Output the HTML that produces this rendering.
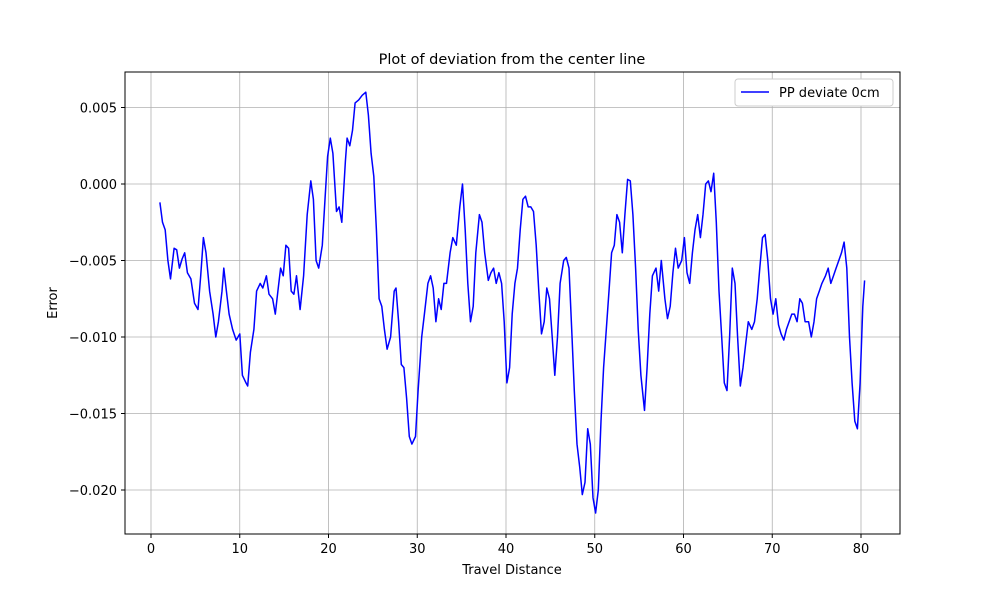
<!DOCTYPE html>
<html><head><meta charset="utf-8"><style>
html,body{margin:0;padding:0;background:#fff;}
svg{display:block;font-family:"DejaVu Sans","Liberation Sans",sans-serif;}
</style></head><body>
<svg id="chart" width="1000" height="600" viewBox="0 0 1000 600">
<rect width="1000" height="600" fill="#fff"/>
<text x="512" y="64" font-size="14.5" text-anchor="middle">Plot of deviation from the center line</text>
<g id="grid"></g>
<g id="ticks"></g>
<polyline id="line" fill="none" stroke="#0000ff" stroke-width="1.5" stroke-linejoin="round"/>
<rect x="125" y="72" width="775" height="462" fill="none" stroke="#000" stroke-width="1"/>
<text x="512" y="574" font-size="13" text-anchor="middle">Travel Distance</text>
<text transform="translate(57,303) rotate(-90)" font-size="13" text-anchor="middle">Error</text>
<g>
<rect x="735" y="79" width="158" height="27" rx="3" fill="#fff" stroke="#ccc"/>
<line x1="741" y1="92" x2="769" y2="92" stroke="#0000ff" stroke-width="1.5"/>
<text x="779" y="97" font-size="13">PP deviate 0cm</text>
</g>
</svg>
<script>
const xs=[1.0,1.3,1.6,1.9,2.2,2.6,2.9,3.2,3.5,3.8,4.1,4.5,4.9,5.3,5.6,5.9,6.2,6.6,7.0,7.3,7.6,8.0,8.2,8.5,8.8,9.2,9.6,10.0,10.3,10.7,10.9,11.2,11.6,11.9,12.3,12.6,13.0,13.3,13.7,14.0,14.3,14.6,14.9,15.2,15.5,15.8,16.1,16.4,16.8,17.2,17.6,18.0,18.3,18.6,18.9,19.3,19.6,19.9,20.2,20.5,20.9,21.2,21.5,21.9,22.1,22.4,22.7,23.0,23.4,23.8,24.2,24.5,24.8,25.1,25.4,25.7,26.0,26.3,26.6,27.0,27.4,27.6,27.9,28.2,28.5,28.8,29.1,29.4,29.8,30.1,30.5,30.8,31.2,31.5,31.8,32.1,32.4,32.7,33.0,33.3,33.7,34.0,34.4,34.8,35.1,35.4,35.7,36.0,36.3,36.6,37.0,37.3,37.6,38.0,38.3,38.6,38.9,39.2,39.5,39.8,40.1,40.4,40.7,41.0,41.3,41.6,41.9,42.2,42.5,42.8,43.1,43.4,43.7,44.0,44.3,44.6,44.9,45.2,45.5,45.8,46.1,46.5,46.8,47.1,47.4,47.7,48.0,48.3,48.6,48.9,49.2,49.5,49.8,50.1,50.4,50.7,51.0,51.3,51.6,51.9,52.2,52.5,52.8,53.1,53.4,53.7,54.0,54.3,54.6,54.9,55.2,55.6,55.9,56.2,56.5,56.9,57.2,57.5,57.9,58.2,58.5,58.8,59.1,59.4,59.8,60.1,60.4,60.7,61.0,61.3,61.6,61.9,62.2,62.5,62.8,63.1,63.4,63.7,64.0,64.3,64.6,64.9,65.2,65.5,65.8,66.1,66.4,66.7,67.0,67.3,67.7,68.0,68.3,68.6,68.9,69.2,69.5,69.8,70.1,70.4,70.7,71.0,71.3,71.6,71.9,72.2,72.5,72.8,73.1,73.4,73.7,74.1,74.4,74.7,75.0,75.3,75.6,76.0,76.3,76.6,76.9,77.2,77.5,77.8,78.1,78.4,78.7,79.0,79.3,79.6,79.9,80.2,80.4];
const errMilli=[-1.2,-2.5,-3.0,-5.0,-6.2,-4.2,-4.3,-5.5,-4.9,-4.5,-5.8,-6.2,-7.8,-8.2,-6.0,-3.5,-4.5,-7.0,-8.5,-10.0,-9.0,-7.0,-5.5,-7.0,-8.5,-9.5,-10.2,-9.8,-12.5,-13.0,-13.2,-11.0,-9.5,-7.0,-6.5,-6.8,-6.0,-7.2,-7.5,-8.5,-7.0,-5.5,-6.0,-4.0,-4.2,-7.0,-7.2,-6.0,-8.2,-6.0,-2.0,0.2,-1.0,-5.0,-5.5,-4.0,-1.0,1.8,3.0,2.0,-1.8,-1.5,-2.5,1.5,3.0,2.5,3.5,5.3,5.5,5.8,6.0,4.5,2.0,0.5,-3.0,-7.5,-8.0,-9.5,-10.8,-10.0,-7.0,-6.8,-9.0,-11.8,-12.0,-14.0,-16.5,-17.0,-16.5,-13.5,-10.0,-8.5,-6.5,-6.0,-6.8,-9.0,-7.5,-8.2,-6.5,-6.5,-4.5,-3.5,-4.0,-1.5,0.0,-3.0,-6.5,-9.0,-8.0,-4.5,-2.0,-2.5,-4.5,-6.3,-5.8,-5.5,-6.5,-5.8,-6.5,-9.0,-13.0,-12.0,-8.5,-6.5,-5.5,-3.0,-1.0,-0.8,-1.5,-1.5,-1.8,-4.0,-7.0,-9.8,-9.0,-6.8,-7.5,-10.0,-12.5,-10.0,-6.5,-5.0,-4.8,-5.5,-9.5,-13.5,-17.0,-18.5,-20.3,-19.5,-16.0,-17.0,-20.5,-21.5,-20.0,-15.5,-12.0,-9.5,-7.0,-4.5,-4.0,-2.0,-2.5,-4.5,-2.0,0.3,0.2,-2.0,-5.5,-9.5,-12.5,-14.8,-12.0,-8.5,-6.0,-5.5,-7.0,-5.0,-7.5,-8.8,-8.0,-5.8,-4.2,-5.5,-5.0,-3.5,-5.8,-6.5,-4.5,-3.0,-2.0,-3.5,-2.0,0.0,0.2,-0.5,0.7,-2.5,-7.0,-10.0,-13.0,-13.5,-10.0,-5.5,-6.5,-10.0,-13.2,-12.0,-10.5,-9.0,-9.5,-9.0,-7.5,-5.5,-3.5,-3.3,-5.0,-7.5,-8.5,-7.5,-9.2,-9.8,-10.2,-9.5,-9.0,-8.5,-8.5,-9.0,-7.5,-7.8,-9.0,-9.0,-10.0,-9.0,-7.5,-7.0,-6.5,-6.0,-5.5,-6.5,-6.0,-5.5,-5.0,-4.5,-3.8,-5.5,-10.0,-13.0,-15.5,-16.0,-13.0,-8.0,-6.3];
const xTicks=[0,10,20,30,40,50,60,70,80];
const yTicks=[0.005,0.000,-0.005,-0.010,-0.015,-0.020];
const yTickLabels=["0.005","0.000","\u22120.005","\u22120.010","\u22120.015","\u22120.020"];

const X=v=>151+v*8.875;
const Y=v=>184-v*15300;
const NS='http://www.w3.org/2000/svg';
const grid=document.getElementById('grid'), ticks=document.getElementById('ticks');
function mk(tag,attrs,parent){const e=document.createElementNS(NS,tag);for(const k in attrs)e.setAttribute(k,attrs[k]);parent.appendChild(e);return e;}
xTicks.forEach(t=>{
  const x=X(t);
  const g=mk('line',{x1:x,x2:x,y1:72,y2:534,stroke:'#b0b0b0','stroke-width':0.8},grid);
  
  
  mk('line',{x1:x,x2:x,y1:534,y2:538,stroke:'#000'},ticks);
  const tx=mk('text',{x:x,y:553,'font-size':13,'text-anchor':'middle'},ticks);
  tx.textContent=String(t);
  
  
});
yTicks.forEach((t,i)=>{
  const y=Y(t);
  const g=mk('line',{x1:125,x2:900,y1:y,y2:y,stroke:'#b0b0b0','stroke-width':0.8},grid);
  
  
  mk('line',{x1:121,x2:125,y1:y,y2:y,stroke:'#000'},ticks);
  const tx=mk('text',{x:117,y:y+5,'font-size':13,'text-anchor':'end'},ticks);
  tx.textContent=yTickLabels[i];
  
  
});
document.getElementById('line').setAttribute('points',xs.map((x,i)=>X(x).toFixed(1)+','+Y(errMilli[i]/1000).toFixed(1)).join(' '));
</script>
</body></html>
